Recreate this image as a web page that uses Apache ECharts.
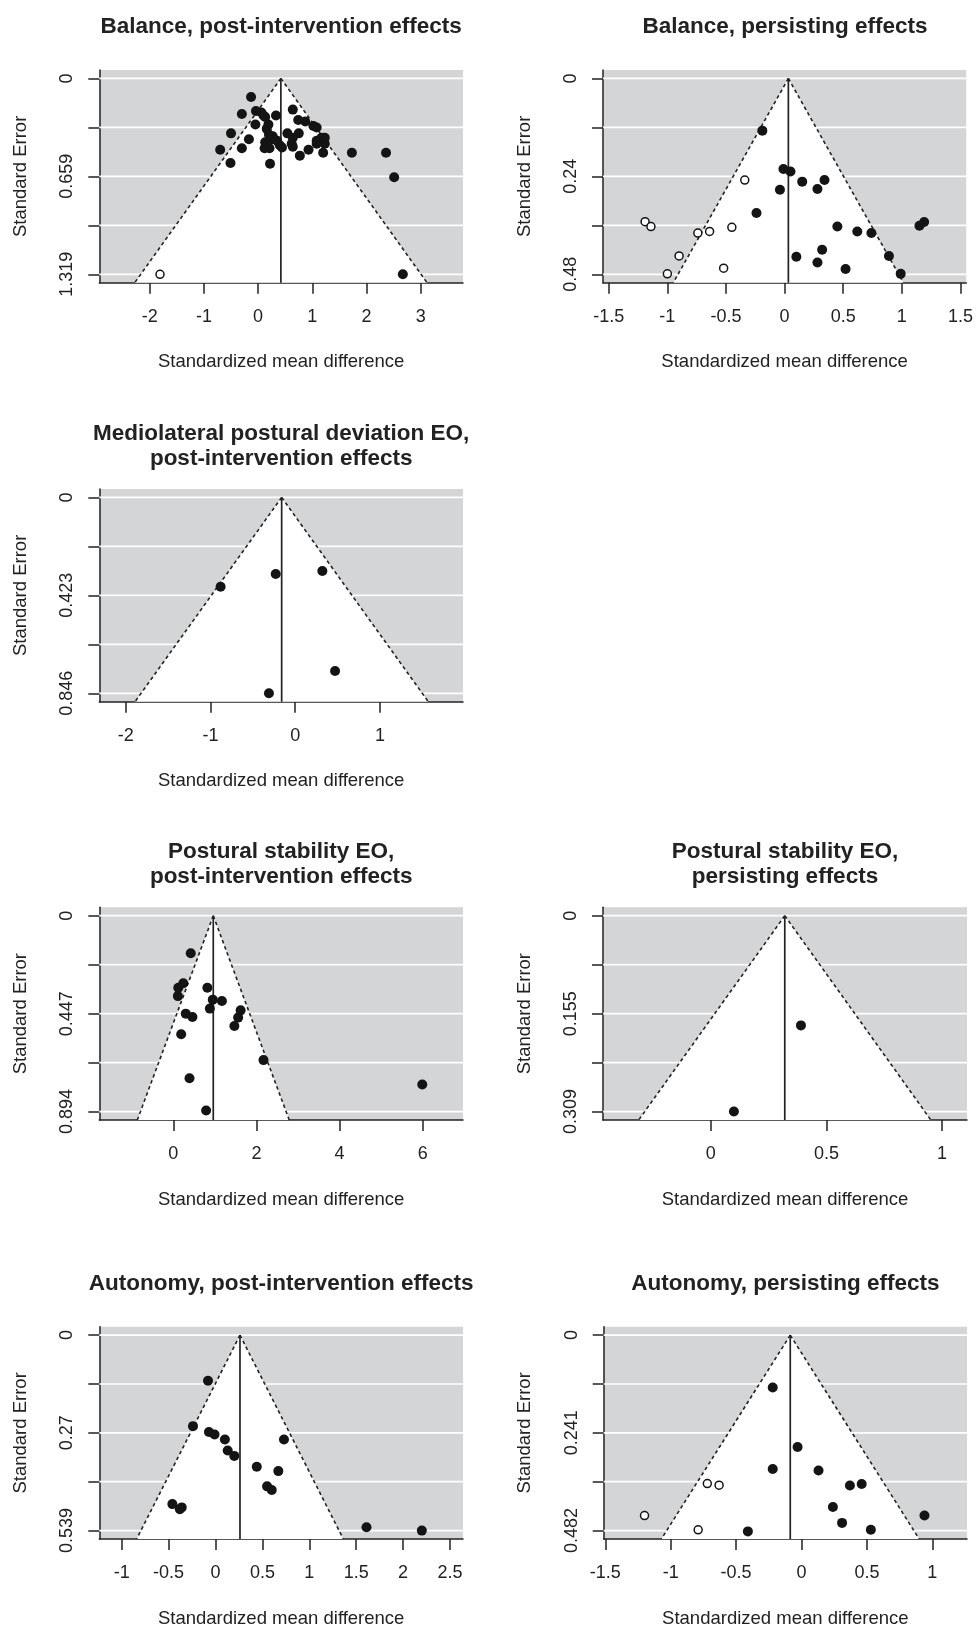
<!DOCTYPE html>
<html><head><meta charset="utf-8">
<script src="https://cdn.jsdelivr.net/npm/echarts@6/dist/echarts.min.js"></script>
<style>html,body{margin:0;padding:0;background:#fff}#c{width:976px;height:1629px}</style>
</head><body><div id="c"></div><script>
// ---------- data: [standardized mean difference, standard error] ----------
const balPostFilled = [[-0.13,0.125],[-0.30,0.24],[-0.04,0.22],[0.06,0.23],[0.13,0.26],[0.33,0.25],[0.10,0.25],[0.19,0.31],[0.16,0.34],[-0.05,0.31],[0.25,0.41],[0.35,0.42],[0.13,0.43],[0.40,0.45],[0.21,0.47],[0.12,0.47],[0.27,0.39],[0.64,0.21],[0.74,0.28],[0.87,0.29],[1.02,0.32],[1.08,0.33],[0.54,0.37],[0.75,0.37],[0.64,0.40],[0.62,0.44],[0.64,0.46],[0.77,0.52],[0.93,0.48],[1.08,0.42],[1.17,0.40],[1.23,0.40],[1.23,0.44],[1.08,0.44],[1.20,0.50],[1.73,0.50],[2.36,0.50],[2.51,0.665],[2.67,1.319],[-0.50,0.37],[-0.70,0.48],[-0.30,0.47],[-0.17,0.41],[-0.51,0.57],[0.22,0.575],[0.44,0.465],[0.20,0.38]];
const balPostOpen = [[-1.81,1.319]];
const balPersFilled = [[-0.19,0.128],[-0.01,0.222],[0.05,0.228],[0.15,0.253],[0.34,0.249],[0.28,0.271],[-0.04,0.273],[-0.24,0.33],[0.45,0.363],[0.62,0.375],[0.74,0.379],[1.15,0.361],[1.19,0.352],[0.10,0.437],[0.32,0.42],[0.28,0.451],[0.52,0.467],[0.89,0.435],[0.99,0.479]];
const balPersOpen = [[-0.34,0.249],[-1.19,0.351],[-1.14,0.363],[-0.74,0.379],[-0.64,0.375],[-0.45,0.365],[-0.90,0.435],[-1.0,0.479],[-0.52,0.465]];
const mlPostFilled = [[-0.88,0.386],[-0.23,0.331],[0.32,0.318],[0.47,0.75],[-0.31,0.846]];
const psPostFilled = [[0.42,0.171],[0.24,0.308],[0.12,0.329],[0.11,0.367],[0.82,0.329],[0.95,0.383],[1.17,0.389],[0.88,0.424],[0.30,0.447],[0.46,0.462],[1.62,0.432],[1.56,0.465],[1.47,0.503],[0.19,0.541],[2.17,0.659],[0.39,0.742],[0.79,0.889],[5.99,0.77]];
const psPersFilled = [[0.39,0.173],[0.10,0.309]];
const autPostFilled = [[-0.08,0.126],[-0.24,0.251],[-0.07,0.267],[-0.01,0.274],[0.10,0.288],[0.13,0.318],[0.20,0.333],[0.73,0.288],[0.44,0.363],[0.67,0.375],[0.55,0.417],[0.60,0.427],[-0.46,0.466],[-0.36,0.475],[-0.38,0.48],[1.61,0.53],[2.20,0.539]];
const autPersFilled = [[-0.22,0.129],[-0.03,0.276],[-0.22,0.33],[0.13,0.334],[0.37,0.371],[0.46,0.367],[0.24,0.424],[0.31,0.463],[0.53,0.48],[0.94,0.445],[-0.41,0.484]];
const autPersOpen = [[-0.72,0.366],[-0.63,0.37],[-1.20,0.445],[-0.79,0.48]];

const titles = ['Balance, post-intervention effects','Balance, persisting effects','Mediolateral postural deviation EO,\npost-intervention effects','Postural stability EO,\npost-intervention effects','Postural stability EO,\npersisting effects','Autonomy, post-intervention effects','Autonomy, persisting effects'];
const centers = [0.42, 0.032, -0.16, 0.962, 0.32, 0.261, -0.086];
const seMax = [1.319, 0.48, 0.846, 0.894, 0.309, 0.539, 0.482];
const yTickLabels = [['0','0.659','1.319'],['0','0.24','0.48'],['0','0.423','0.846'],['0','0.447','0.894'],['0','0.155','0.309'],['0','0.27','0.539'],['0','0.241','0.482']];
const xTicks = [[-2,-1,0,1,2,3],[-1.5,-1,-0.5,0,0.5,1,1.5],[-2,-1,0,1],[0,2,4,6],[0,0.5,1],[-1,-0.5,0,0.5,1,1.5,2,2.5],[-1.5,-1,-0.5,0,0.5,1]];
const xRanges = [[-2.93,3.78],[-1.549,1.549],[-2.311,1.979],[-1.78,6.97],[-0.466,1.108],[-1.239,2.639],[-1.512,1.265]];
const filledSets = [balPostFilled, balPersFilled, mlPostFilled, psPostFilled, psPersFilled, autPostFilled, autPersFilled];
const openSets = [balPostOpen, balPersOpen, [], [], [], [], autPersOpen];

// ---------- layout ----------
const layout = [
  {left:99.3, top:70, width:363.7, height:212.7, titleY:14.5},
  {left:603, top:70, width:364, height:212.7, titleY:14.5},
  {left:99.3, top:489, width:363.7, height:212.7, titleY:421},
  {left:99.3, top:907.3, width:363.7, height:212.7, titleY:839.5},
  {left:603, top:907.3, width:364, height:212.7, titleY:839.5},
  {left:99.3, top:1326.7, width:363.7, height:212.7, titleY:1271},
  {left:603.7, top:1326.7, width:363.3, height:212.7, titleY:1271}
];
const EXT = 0.043;
const FONT = 'Liberation Sans';
const INK = '#222';

function funnelRender(params, api) {
  const cs = params.coordSys;
  const c = api.value(0), bot = api.value(1), R = api.value(2);
  const half = 1.96 * bot;
  const pTop = api.coord([c, 0]);
  const pL = api.coord([c - half, bot]);
  const pR = api.coord([c + half, bot]);
  const children = [];
  for (let k = 0; k <= 4; k++) {
    const y = api.coord([c, R * k / 4])[1];
    children.push({type:'line', shape:{x1:cs.x, y1:y, x2:cs.x + cs.width, y2:y}, style:{stroke:'#fff', lineWidth:1.7}});
  }
  children.push({type:'polygon', shape:{points:[pTop, pL, pR]}, style:{fill:'#fff'}});
  children.push({type:'line', shape:{x1:pTop[0], y1:pTop[1], x2:pL[0], y2:pL[1]}, style:{stroke:INK, lineWidth:1.6, lineDash:[3.5,3]}});
  children.push({type:'line', shape:{x1:pTop[0], y1:pTop[1], x2:pR[0], y2:pR[1]}, style:{stroke:INK, lineWidth:1.6, lineDash:[3.5,3]}});
  children.push({type:'line', shape:{x1:pTop[0], y1:pTop[1], x2:pTop[0], y2:cs.y + cs.height}, style:{stroke:INK, lineWidth:1.7}});
  return {type:'group', children};
}

const grid = [], xAxis = [], yAxis = [], series = [], graphic = [];
for (let i = 0; i < 7; i++) {
  const L = layout[i], R = seMax[i];
  grid.push({left:L.left, top:L.top, width:L.width, height:L.height, show:true, backgroundColor:'#d4d5d7', borderWidth:0, containLabel:false});
  const xt = xTicks[i];
  xAxis.push({type:'value', gridIndex:i, min:xRanges[i][0], max:xRanges[i][1],
    name:'Standardized mean difference', nameLocation:'middle', nameGap:70,
    nameTextStyle:{fontFamily:FONT, fontSize:18.5, color:INK},
    axisLine:{show:true, onZero:false, lineStyle:{color:INK, width:1.5}},
    axisTick:{show:true, length:11, customValues:xt, lineStyle:{color:INK, width:1.5}},
    axisLabel:{show:true, customValues:xt, margin:25, fontFamily:FONT, fontSize:18, color:INK, showMinLabel:true, showMaxLabel:true},
    splitLine:{show:false}});
  const labs = yTickLabels[i];
  yAxis.push({type:'value', gridIndex:i, inverse:true, min:-EXT*R, max:(1+EXT)*R,
    name:'Standard Error', nameLocation:'middle', nameGap:69,
    nameTextStyle:{fontFamily:FONT, fontSize:18.5, color:INK},
    axisLine:{show:true, onZero:false, lineStyle:{color:INK, width:1.5}},
    axisTick:{show:true, length:11, customValues:[0, R/4, R/2, 3*R/4, R], lineStyle:{color:INK, width:1.5}},
    axisLabel:{show:true, customValues:[0, R/2, R], rotate:90, margin:23, fontFamily:FONT, fontSize:18, color:INK,
      formatter:(v) => labs[Math.round(v / R * 2)]},
    splitLine:{show:false}});
  series.push({type:'custom', xAxisIndex:i, yAxisIndex:i, z:1, silent:true, clip:false,
    renderItem:funnelRender, data:[[centers[i], (1+EXT)*R, R]], encode:{x:0, y:1}});
  series.push({type:'scatter', xAxisIndex:i, yAxisIndex:i, z:3, symbol:'circle', symbolSize:10,
    itemStyle:{color:'#141414', opacity:1}, data:filledSets[i], silent:true});
  if (openSets[i].length) {
    series.push({type:'scatter', xAxisIndex:i, yAxisIndex:i, z:4, symbol:'circle', symbolSize:8,
      itemStyle:{color:'#fff', borderColor:'#141414', borderWidth:1.5, opacity:1}, data:openSets[i], silent:true});
  }
  graphic.push({type:'text', x:L.left + L.width/2, y:L.titleY,
    style:{text:titles[i], textAlign:'center', textVerticalAlign:'top', font:'bold 22.5px "Liberation Sans"', lineHeight:25, fill:INK}});
}

const chart = echarts.init(document.getElementById('c'), null, {renderer:'canvas'});
chart.setOption({animation:false, backgroundColor:'#fff', grid, xAxis, yAxis, series, graphic});
</script></body></html>
